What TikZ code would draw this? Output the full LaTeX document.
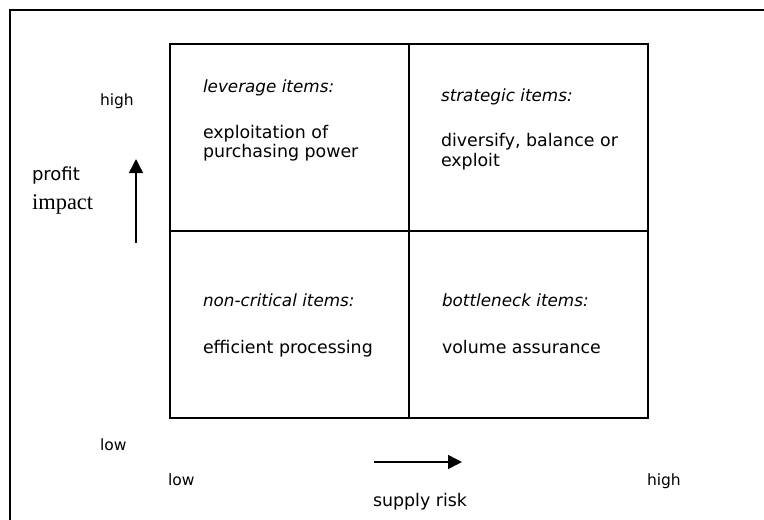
\documentclass[tikz,border=0pt]{standalone}
\usepackage{fontspec}
\setmainfont{DejaVu Sans}
\newfontfamily\serifimpact{Liberation Serif}
\usetikzlibrary{arrows.meta}
\tikzset{
  cell/.style={draw=black, line width=1.1pt, minimum width=239pt, minimum height=187pt, inner sep=0pt, outer sep=0pt, anchor=north west},
  lbl/.style={anchor=base west, inner sep=0pt, outer sep=0pt, font=\fontsize{17.4}{20}\selectfont},
  cat/.style={anchor=base west, inner sep=0pt, outer sep=0pt, font=\fontsize{16.8}{20}\selectfont\itshape},
  small/.style={anchor=base west, inner sep=0pt, outer sep=0pt, font=\fontsize{15.5}{18}\selectfont},
  axisarrow/.style={line width=1.5pt, -{Triangle[width=14pt,length=14pt]}},
  frame/.style={line width=1.3pt}
}
\begin{document}
\begin{tikzpicture}[x=1pt,y=-1pt]
\useasboundingbox (0,0) rectangle (764,520);
% outer frame (top and left edges visible)
\coordinate (f1) at (10,10);
\coordinate (f2) at (764,10);
\coordinate (f3) at (10,520);
\draw[frame] (f2) -- (f1) -- (f3);
% grid cells
\node[cell] (lev) at (170,44) {};
\node[cell] (str) at (409,44) {};
\node[cell] (non) at (170,231) {};
\node[cell] (bot) at (409,231) {};
% cell texts
\node[cat] (levh) at (203,92) {leverage items:};
\node[lbl] (lev1) at (203,138) {exploitation of};
\node[lbl] (lev2) at (203,157) {purchasing power};
\node[cat] (strh) at (441,101) {strategic items:};
\node[lbl] (str1) at (441,146) {diversify, balance or};
\node[lbl] (str2) at (441,166) {exploit};
\node[cat] (nonh) at (203,306) {non-critical items:};
\node[lbl] (non1) at (203,353) {efficient processing};
\node[cat] (both) at (442,306) {bottleneck items:};
\node[lbl] (bot1) at (442,353) {volume assurance};
% axis labels
\node[small] (yhigh) at (100,105) {high};
\node[small] (ylow) at (100,450) {low};
\node[small] (xlow) at (168,485) {low};
\node[small] (xhigh) at (647,485) {high};
\node[lbl, font=\fontsize{18}{20}\selectfont] (prof) at (32,180) {profit};
\node[anchor=base west, inner sep=0pt, font=\fontsize{22.4}{24}\selectfont\serifimpact] (imp) at (32,209) {impact};
\node[lbl] (sup) at (373,506) {supply risk};
% axis arrows
\coordinate (va) at (136,243);
\coordinate (vb) at (136,159);
\draw[axisarrow] (va) -- (vb);
\coordinate (ha) at (374,462);
\coordinate (hb) at (462,462);
\draw[axisarrow] (ha) -- (hb);
\end{tikzpicture}
\end{document}
